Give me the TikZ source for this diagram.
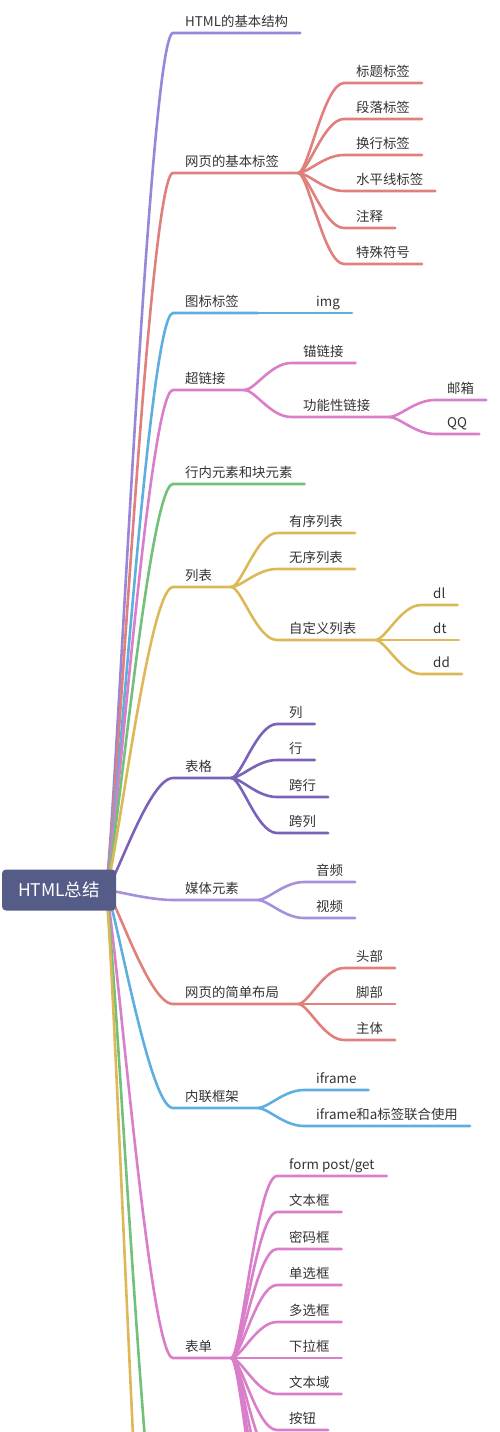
\documentclass[tikz,border=0pt]{standalone}
\usepackage{fontspec}
\usepackage{tikz}
\usetikzlibrary{backgrounds}
\newfontfamily\cjk{Noto Sans CJK SC}
\definecolor{Ink}{HTML}{333333}
\definecolor{Slate}{HTML}{555C87}
\definecolor{Lav}{HTML}{9A86D8}
\definecolor{Plum}{HTML}{7B62B9}
\definecolor{Lil}{HTML}{A68FDB}
\definecolor{Sal}{HTML}{E0807C}
\definecolor{Sky}{HTML}{5FAEE0}
\definecolor{Rose}{HTML}{DA7EC9}
\definecolor{Leaf}{HTML}{72C17A}
\definecolor{Gold}{HTML}{DDB858}

\begin{document}
\begin{tikzpicture}[x=1pt,y=-1pt,
  leaf/.style={anchor=south west,inner xsep=12pt,inner ysep=4.5pt,text height=10.5pt,text depth=1.5pt,
    font=\cjk\fontsize{13.4}{16}\selectfont,text=Ink},
  br/.style={line width=2.6pt,line cap=round},
  rootbox/.style={fill=Slate,rounded corners=4pt,minimum width=114pt,minimum height=41pt,inner sep=0pt,
    font=\cjk\fontsize{17.5}{20}\selectfont,text=white}]
  \useasboundingbox (0,0) rectangle (500,1432);
  \clip (0,0) rectangle (500,1432);
  \node[rootbox] (root) at (59,890) {HTML总结};
  % main branches
  \foreach \i/\y/\s/\lab in {1/33/0/HTML的基本结构, 2/173/7/网页的基本标签, 3/313/7/图标标签,
    4/390/7/超链接, 5/484/0/行内元素和块元素, 6/587/7/列表, 7/778/7/表格, 8/900/7/媒体元素,
    9/1004/7/网页的简单布局, 10/1108/7/内联框架, 11/1358/7/表单} {
    \node[leaf] (b\i) at (173,\y) {\lab};
    \coordinate (h\i) at ([xshift=\s pt]b\i.south east);
  }
  \coordinate (b12) at (173,1650);
  \coordinate (b13) at (173,1970);
  \begin{scope}[on background layer]
    \foreach \i/\c in {1/Lav,2/Sal,3/Sky,4/Rose,5/Leaf,6/Gold,7/Plum,8/Lil,9/Sal,10/Sky,11/Rose}
      \draw[br,\c] ([xshift=-11pt]root.east) .. controls +(8,0) and +(-25,0) .. (b\i.south west) -- (h\i);
    \draw[br,Leaf] ([xshift=-11pt]root.east) .. controls +(8,0) and +(-25,0) .. (b12) -- +(120,0);
    \draw[br,Gold] ([xshift=-11pt]root.east) .. controls +(8,0) and +(-25,0) .. (b13) -- +(120,0);
  \end{scope}
  % 网页的基本标签
  \foreach \n/\y/\lab in {1/83/标题标签,2/119/段落标签,3/155/换行标签,4/191/水平线标签,5/228/注释,6/264/特殊符号} {
    \node[leaf] (b2c\n) at (344,\y) {\lab};
    \draw[br,Sal] (h2) .. controls +(10,0) and +(-20,0) .. (b2c\n.south west) -- (b2c\n.south east);
  }
  % 图标标签
  \node[leaf] (b3c1) at (304,313) {img};
  \draw[br,Sky] (h3) -- (b3c1.south west) -- (b3c1.south east);
  % 超链接
  \node[leaf] (b4c1) at (291,363) {锚链接};
  \node[leaf] (b4c2) at (291,417) {功能性链接};
  \coordinate (h4c2) at ([xshift=7pt]b4c2.south east);
  \draw[br,Rose] (h4) .. controls +(10,0) and +(-20,0) .. (b4c1.south west) -- (b4c1.south east);
  \draw[br,Rose] (h4) .. controls +(10,0) and +(-20,0) .. (b4c2.south west) -- (h4c2);
  \foreach \n/\y/\lab in {1/400/邮箱,2/434/QQ} {
    \node[leaf] (b4d\n) at (435,\y) {\lab};
    \draw[br,Rose] (h4c2) .. controls +(10,0) and +(-20,0) .. (b4d\n.south west) -- (b4d\n.south east);
  }
  % 列表
  \foreach \n/\y/\lab in {1/533/有序列表,2/569/无序列表} {
    \node[leaf] (b6c\n) at (277,\y) {\lab};
    \draw[br,Gold] (h6) .. controls +(10,0) and +(-20,0) .. (b6c\n.south west) -- (b6c\n.south east);
  }
  \node[leaf] (b6c3) at (277,640) {自定义列表};
  \coordinate (h6c3) at ([xshift=7pt]b6c3.south east);
  \draw[br,Gold] (h6) .. controls +(10,0) and +(-20,0) .. (b6c3.south west) -- (h6c3);
  \foreach \n/\y/\lab in {1/605/dl,2/640/dt,3/674/dd} {
    \node[leaf] (b6d\n) at (421,\y) {\lab};
    \draw[br,Gold] (h6c3) .. controls +(10,0) and +(-20,0) .. (b6d\n.south west) -- (b6d\n.south east);
  }
  % 表格
  \foreach \n/\y/\lab in {1/724/列,2/760/行,3/797/跨行,4/833/跨列} {
    \node[leaf] (b7c\n) at (277,\y) {\lab};
    \draw[br,Plum] (h7) .. controls +(10,0) and +(-20,0) .. (b7c\n.south west) -- (b7c\n.south east);
  }
  % 媒体元素
  \foreach \n/\y/\lab in {1/882/音频,2/918/视频} {
    \node[leaf] (b8c\n) at (304,\y) {\lab};
    \draw[br,Lil] (h8) .. controls +(10,0) and +(-20,0) .. (b8c\n.south west) -- (b8c\n.south east);
  }
  % 网页的简单布局
  \foreach \n/\y/\lab in {1/968/头部,2/1004/脚部,3/1040/主体} {
    \node[leaf] (b9c\n) at (344,\y) {\lab};
    \draw[br,Sal] (h9) .. controls +(10,0) and +(-20,0) .. (b9c\n.south west) -- (b9c\n.south east);
  }
  % 内联框架
  \foreach \n/\y/\lab in {1/1090/iframe,2/1126/iframe和a标签联合使用} {
    \node[leaf] (b10c\n) at (304,\y) {\lab};
    \draw[br,Sky] (h10) .. controls +(10,0) and +(-20,0) .. (b10c\n.south west) -- (b10c\n.south east);
  }
  % 表单
  \node[leaf] (b11c0) at (277,1176) {form post/get};
  \draw[br,Rose] (h11) .. controls +(10,0) and +(-20,0) .. (b11c0.south west) -- (b11c0.south east);
  \foreach \n/\y/\lab in {1/1212/文本框,2/1249/密码框,3/1285/单选框,4/1322/多选框,5/1358/下拉框,6/1394/文本域,7/1430/按钮} {
    \node[leaf] (b11c\n) at (277,\y) {\lab};
    \draw[br,Rose] (h11) .. controls +(10,0) and +(-20,0) .. (b11c\n.south west) -- (b11c\n.south east);
  }
  \foreach \n/\y in {8/1466,9/1502,10/1538,11/1574} {
    \coordinate (b11c\n) at (277,\y);
    \draw[br,Rose] (h11) .. controls +(10,0) and +(-20,0) .. (b11c\n) -- +(60,0);
  }
\end{tikzpicture}
\end{document}
